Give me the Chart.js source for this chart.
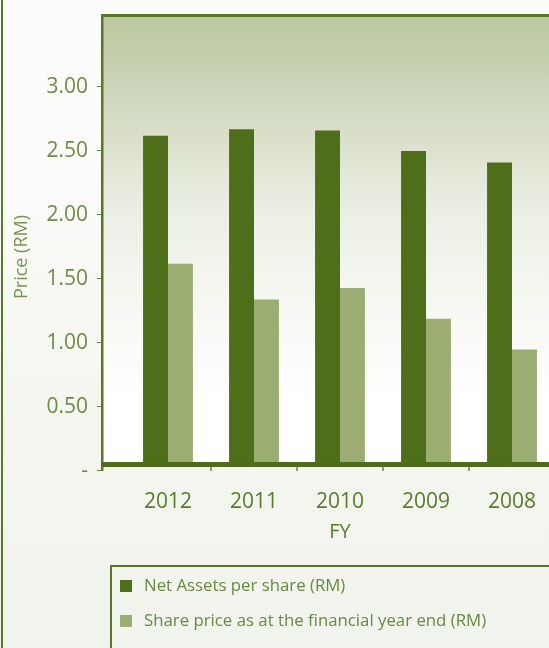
<!DOCTYPE html>
<html lang="en">
<head>
<meta charset="UTF-8">
<title>Price (RM)</title>
<script src="https://cdn.jsdelivr.net/npm/chart.js"></script>
<style>
    html, body { margin: 0; padding: 0; }
    body {
        width: 549px; height: 648px; overflow: hidden; position: relative;
        background: linear-gradient(to bottom, #fcfcfa 0%, #fbfbf9 30%, #f4f6ef 60%, #f1f4ec 100%);
        font-family: "Open Sans", sans-serif;
    }
    .left-line { position: absolute; left: 1px; top: 0; width: 2px; height: 648px; background: #5b7a28; }
    .wrap { position: absolute; left: 0; top: 0; width: 570px; height: 648px; }
    .legend {
        position: absolute; left: 110px; top: 565px; width: 500px; height: 120px;
        border: 2px solid #5b7a28; box-sizing: border-box;
    }
    .legend div { position: absolute; left: 8px; height: 20px; line-height: 20px; font-size: 16.8px; color: #6a8744; white-space: nowrap; }
    .legend span { display: inline-block; width: 12px; height: 12px; margin-right: 12px; vertical-align: -1px; }
</style>
</head>
<body>
    <div class="left-line"></div>
    <div class="wrap">
        <canvas id="grafico" width="570" height="648"></canvas>
    </div>
    <div class="legend" id="legenda"></div>

<script>
    // dados
    var anos = ['2012', '2011', '2010', '2009', '2008'];
    var netAssets = [2.62, 2.67, 2.66, 2.50, 2.41];
    var sharePrice = [1.62, 1.34, 1.43, 1.19, 0.95];
    var nomesSeries = ['Net Assets per share (RM)', 'Share price as at the financial year end (RM)'];
    var coresSeries = ['#4f6e1a', '#9cad74'];
    var tituloY = 'Price (RM)';
    var tituloX = 'FY';

    // legenda em html
    var legenda = document.getElementById('legenda');
    for (let i = 0; i < nomesSeries.length; i++) {
        var item = document.createElement('div');
        item.style.top = (8 + i * 35) + 'px';
        item.innerHTML = '<span style="background:' + coresSeries[i] + '"></span>' + nomesSeries[i];
        legenda.appendChild(item);
    }

    var verde = '#587826';

    // fundo da area do grafico, eixo grosso e marcas
    var fundoPlot = {
        id: 'fundoPlot',
        beforeDraw(chart) {
            var ctx = chart.ctx;
            var a = chart.chartArea;
            var y = chart.scales.y;
            var zero = y.getPixelForValue(0);
            ctx.save();
            var g = ctx.createLinearGradient(0, a.top, 0, a.bottom);
            g.addColorStop(0, '#b9c79f');
            g.addColorStop(0.274, '#dbe0cc');
            g.addColorStop(0.406, '#e9ede1');
            g.addColorStop(0.537, '#f1f4ec');
            g.addColorStop(0.69, '#f9faf6');
            g.addColorStop(0.844, '#ffffff');
            g.addColorStop(1, '#ffffff');
            ctx.fillStyle = g;
            ctx.fillRect(101, a.top, chart.width - 101, zero - 9 - a.top);
            ctx.fillStyle = verde;
            ctx.fillRect(101, a.top - 1, chart.width - 101, 3);
            ctx.fillRect(101, a.top - 1, 2.5, zero - a.top + 1);
            ctx.restore();
        },
        afterDatasetsDraw(chart) {
            var ctx = chart.ctx;
            var x = chart.scales.x;
            var y = chart.scales.y;
            var zero = y.getPixelForValue(0);
            ctx.save();
            ctx.fillStyle = '#4e6d1a';
            ctx.fillRect(101, zero - 9, chart.width - 101, 5);
            ctx.strokeStyle = '#6a8a3a';
            ctx.lineWidth = 1.5;
            for (let i = 0; i < anos.length - 1; i++) {
                var px = (x.getPixelForValue(i) + x.getPixelForValue(i + 1)) / 2;
                ctx.beginPath();
                ctx.moveTo(px, zero - 4);
                ctx.lineTo(px, zero);
                ctx.stroke();
            }
            ctx.lineWidth = 1;
            y.ticks.forEach(t => {
                var py = Math.round(y.getPixelForValue(t.value)) - 0.5;
                ctx.beginPath();
                ctx.moveTo(97, py);
                ctx.lineTo(102, py);
                ctx.stroke();
            });
            // titulo do eixo y
            ctx.translate(22, 257);
            ctx.rotate(-Math.PI / 2);
            ctx.fillStyle = '#7a9553';
            ctx.font = '18px "Open Sans"';
            ctx.textAlign = 'center';
            ctx.textBaseline = 'middle';
            ctx.fillText(tituloY, 0, 0);
            ctx.restore();
        }
    };

    Chart.defaults.font.family = '"Open Sans", sans-serif';

    new Chart(document.getElementById('grafico'), {
        type: 'bar',
        data: {
            labels: anos,
            datasets: [{
                label: nomesSeries[0],
                data: netAssets,
                backgroundColor: coresSeries[0],
                clip: { left: 0, top: 0, right: 0, bottom: -4 }
            }, {
                label: nomesSeries[1],
                data: sharePrice,
                backgroundColor: coresSeries[1],
                clip: { left: 0, top: 0, right: 0, bottom: -4 }
            }]
        },
        options: {
            responsive: false,
            animation: false,
            devicePixelRatio: 1,
            layout: { padding: { left: 0, right: 15, top: 15, bottom: 0 } },
            categoryPercentage: 0.58,
            barPercentage: 1,
            plugins: {
                legend: { display: false },
                tooltip: { enabled: false }
            },
            scales: {
                x: {
                    grid: { display: false, drawTicks: false },
                    border: { display: false },
                    ticks: { color: '#5b7a2c', font: { size: 21 }, padding: 18 },
                    title: {
                        display: true, text: tituloX, color: '#5b7a2c',
                        font: { size: 20 }, padding: { top: 0, bottom: 104 }
                    },
                    afterFit(scale) {
                        scale.height = 177;
                        scale.paddingLeft = 0;
                        scale.paddingRight = 0;
                    }
                },
                y: {
                    min: 0,
                    max: 3.5625,
                    grid: { display: false, drawTicks: false },
                    border: { display: false },
                    ticks: {
                        stepSize: 0.5,
                        color: '#6f8b48',
                        font: { size: 21 },
                        padding: 37,
                        callback: v => v === 0 ? '-' : v.toFixed(2)
                    },
                    afterBuildTicks(scale) {
                        scale.ticks = scale.ticks.filter(t => t.value <= 3);
                    },
                    afterFit(scale) {
                        scale.width = 125;
                        scale.paddingTop = 0;
                        scale.paddingBottom = 0;
                    }
                }
            }
        },
        plugins: [fundoPlot]
    });
</script>
</body>
</html>
